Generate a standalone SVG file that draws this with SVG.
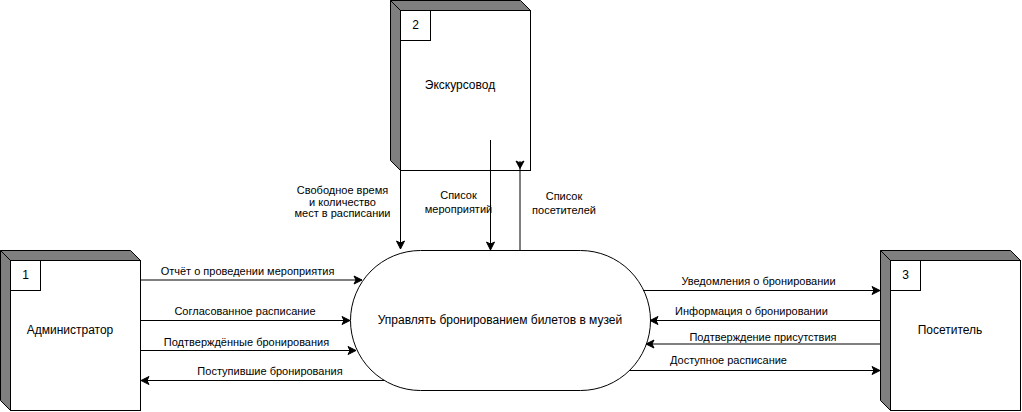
<svg xmlns="http://www.w3.org/2000/svg" width="1022" height="412" viewBox="0 0 1022 412">
  <style>
    .face { fill: #ffffff; stroke: #000000; stroke-width: 1; }
    .side { fill: #7f7f7f; stroke: #000000; stroke-width: 1; stroke-linejoin: miter; }
    .flow { fill: none; stroke: #000000; stroke-width: 1; }
    .arrow { marker-end: url(#head); }
    text { font-family: "Liberation Sans", Arial, Helvetica, sans-serif; fill: #000000; }
    .node-label { font-size: 12px; text-anchor: middle; }
    .num { font-size: 12px; text-anchor: middle; }
    .flow-label { font-size: 11px; text-anchor: middle; }
  </style>
  <defs>
    <!-- classic open-notch arrowhead, tip at the path end -->
    <marker id="head" markerUnits="userSpaceOnUse" viewBox="-9 -5 10 10" refX="0" refY="0" markerWidth="10" markerHeight="10" orient="auto">
      <path d="M0,0 L-8,-4 L-6,0 L-8,4 Z" fill="#000000" stroke="#000000" stroke-width="1" stroke-linejoin="miter"/>
    </marker>
  </defs>

  <rect x="0" y="0" width="1022" height="412" fill="#ffffff"/>

  <!-- External entity 1 -->
  <g id="node-admin">
    <polygon class="side" points="0.5,250.5 130.5,250.5 140.5,260.5 10.5,260.5"/>
    <polygon class="side" points="0.5,250.5 10.5,260.5 10.5,410.5 0.5,400.5"/>
    <rect class="face" x="10.5" y="260.5" width="130" height="150"/>
    <rect class="face" x="10.5" y="260.5" width="30" height="30"/>
    <text class="num" x="25.5" y="279">1</text>
    <text class="node-label" x="70" y="334">Администратор</text>
  </g>

  <!-- External entity 2 -->
  <g id="node-guide">
    <polygon class="side" points="390.5,0.5 520.5,0.5 530.5,10.5 400.5,10.5"/>
    <polygon class="side" points="390.5,0.5 400.5,10.5 400.5,170.5 390.5,160.5"/>
    <rect class="face" x="400.5" y="10.5" width="130" height="160"/>
    <rect class="face" x="400.5" y="10.5" width="30" height="30"/>
    <text class="num" x="415.5" y="29">2</text>
    <text class="node-label" x="460" y="89">Экскурсовод</text>
  </g>

  <!-- External entity 3 -->
  <g id="node-visitor">
    <polygon class="side" points="880.5,250.5 1010.5,250.5 1020.5,260.5 890.5,260.5"/>
    <polygon class="side" points="880.5,250.5 890.5,260.5 890.5,410.5 880.5,400.5"/>
    <rect class="face" x="890.5" y="260.5" width="130" height="150"/>
    <rect class="face" x="890.5" y="260.5" width="30" height="30"/>
    <text class="num" x="905.5" y="279">3</text>
    <text class="node-label" x="950" y="334">Посетитель</text>
  </g>

  <!-- Process -->
  <g id="node-process">
    <rect class="face" x="350.5" y="250.5" width="300" height="140" rx="70" ry="70"/>
    <text class="node-label" x="500" y="324">Управлять бронированием билетов в музей</text>
  </g>

  <!-- Data flows -->
  <g id="connectors">
    <!-- Administrator side -->
    <path class="flow arrow" d="M140,280 L362,280"/>
    <text class="flow-label" x="247.5" y="274.5">Отчёт о проведении мероприятия</text>

    <path class="flow arrow" d="M140,320.5 L350,320.5"/>
    <text class="flow-label" x="245" y="315">Согласованное расписание</text>

    <path class="flow arrow" d="M140,350.5 L356,350.5"/>
    <text class="flow-label" x="246.5" y="345.5">Подтверждённые бронирования</text>

    <path class="flow arrow" d="M384,380.5 L141,380.5"/>
    <text class="flow-label" x="270" y="374.5">Поступившие бронирования</text>

    <!-- Visitor side -->
    <path class="flow arrow" d="M643,290.5 L880,290.5"/>
    <text class="flow-label" x="758.5" y="284.5">Уведомления о бронировании</text>

    <path class="flow arrow" d="M880,320.5 L650,320.5"/>
    <text class="flow-label" x="751.5" y="315">Информация о бронировании</text>

    <path class="flow arrow" d="M880,344 L646,344"/>
    <text class="flow-label" x="763" y="340.5">Подтверждение присутствия</text>

    <path class="flow arrow" d="M629,370.5 L880,370.5"/>
    <text class="flow-label" x="728.5" y="363.5">Доступное расписание</text>

    <!-- Guide side -->
    <path class="flow arrow" d="M400.5,170 L400.5,249"/>
    <text class="flow-label" x="342.5" y="193.5">Свободное время</text>
    <text class="flow-label" x="342.5" y="205.5">и количество</text>
    <text class="flow-label" x="342.5" y="217">мест в расписании</text>

    <path class="flow arrow" d="M490.5,140 L490.5,250"/>
    <text class="flow-label" x="458.5" y="198.5">Список</text>
    <text class="flow-label" x="458.5" y="212.5">мероприятий</text>

    <path class="flow" d="M520,250 L520,161"/>
    <path d="M520,168.5 L516,161 L520,163 L524,161 Z" fill="#000000" stroke="#000000" stroke-width="1"/>
    <text class="flow-label" x="564" y="200">Список</text>
    <text class="flow-label" x="564" y="213.5">посетителей</text>
  </g>
</svg>
